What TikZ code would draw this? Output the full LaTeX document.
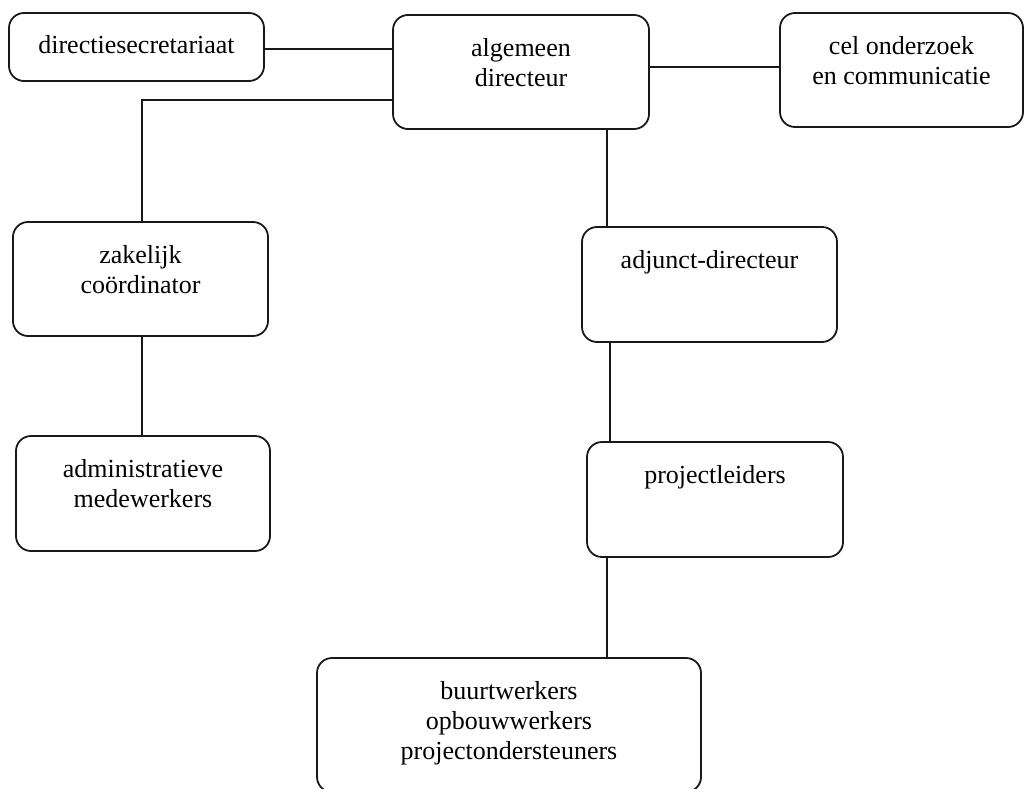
\documentclass[tikz,border=0pt]{standalone}
\usepackage{fontspec}
\setmainfont{Liberation Serif}
\begin{document}
\begin{tikzpicture}[x=1pt,y=-1pt,
  box/.style={draw=black!90, line width=1.8pt, rounded corners=15pt, fill=white, inner sep=0pt},
  lbl/.style={anchor=north, inner sep=0pt, align=center, font=\fontsize{26}{30}\selectfont},
  conn/.style={draw=black!90, line width=1.8pt}]
\useasboundingbox (0,0) rectangle (1025,789);
% boxes
\node[box, minimum width=255pt, minimum height=68pt]  (ds)  at (136.5,47)  {};
\node[box, minimum width=256pt, minimum height=114pt] (ad)  at (521,72)    {};
\node[box, minimum width=243pt, minimum height=114pt] (cel) at (901.5,70)  {};
\node[box, minimum width=255pt, minimum height=114pt] (zc)  at (140.5,279) {};
\node[box, minimum width=255pt, minimum height=115pt] (adj) at (709.5,284.5) {};
\node[box, minimum width=254pt, minimum height=115pt] (adm) at (143,493.5) {};
\node[box, minimum width=256pt, minimum height=115pt] (pl)  at (715,499.5) {};
\node[box, minimum width=384pt, minimum height=134pt] (bw)  at (509,725)   {};
% labels
\node[lbl] (tds)  at ([yshift=-23pt]ds.north)  {directiesecretariaat};
\node[lbl] (tad)  at ([yshift=-24pt]ad.north)  {algemeen\\directeur};
\node[lbl] (tcel) at ([yshift=-24pt]cel.north) {cel onderzoek\\en communicatie};
\node[lbl] (tzc)  at ([yshift=-24pt]zc.north)  {zakelijk\\coördinator};
\node[lbl] (tadj) at ([yshift=-24pt]adj.north) {adjunct-directeur};
\node[lbl] (tadm) at ([yshift=-24pt]adm.north) {administratieve\\medewerkers};
\node[lbl] (tpl)  at ([yshift=-24pt]pl.north)  {projectleiders};
\node[lbl] (tbw)  at ([yshift=-24pt]bw.north)  {buurtwerkers\\opbouwwerkers\\projectondersteuners};
% connectors
\draw[conn] ([yshift=-2pt]ds.east) -- ([yshift=-2pt]ds.east -| ad.west);
\draw[conn] ([yshift=5pt]ad.east) -- ([yshift=5pt]ad.east -| cel.west);
\draw[conn] ([yshift=-28pt]ad.west) -| ([xshift=1.5pt]zc.north);
\draw[conn] ([xshift=86pt]ad.south) -- ([xshift=86pt]ad.south |- adj.north);
\draw[conn] ([xshift=1.5pt]zc.south) -- ([xshift=1.5pt]zc.south |- adm.north);
\draw[conn] ([xshift=-99.5pt]adj.south) -- ([xshift=-99.5pt]adj.south |- pl.north);
\draw[conn] ([xshift=-108pt]pl.south) -- ([xshift=-108pt]pl.south |- bw.north);
\end{tikzpicture}
\end{document}
